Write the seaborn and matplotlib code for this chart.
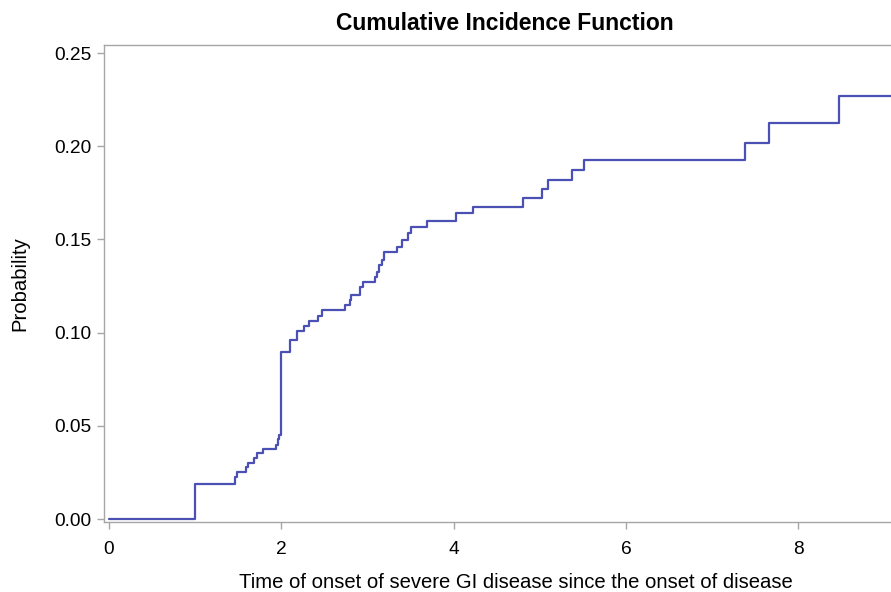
import matplotlib
matplotlib.use("Agg")
import matplotlib.pyplot as plt
import seaborn as sns
import pandas as pd

# Step function data (time, cumulative incidence after jump)
time = [0.0, 1.0, 1.462, 1.481, 1.586, 1.609, 1.686, 1.712, 1.790, 1.934, 1.957, 1.976,
        2.0, 2.100, 2.178, 2.262, 2.320, 2.428, 2.468, 2.738, 2.796, 2.804, 2.912, 2.943,
        3.086, 3.105, 3.132, 3.164, 3.190, 3.338, 3.396, 3.472, 3.503, 3.686, 4.026,
        4.226, 4.799, 5.020, 5.096, 5.368, 5.510, 7.386, 7.657, 8.472, 9.30]
cif = [0.0, 0.0188, 0.0224, 0.0254, 0.0281, 0.0302, 0.0326, 0.0352, 0.0374, 0.0397, 0.0428, 0.0451,
       0.0896, 0.0960, 0.1010, 0.1035, 0.1064, 0.1091, 0.1121, 0.1148, 0.1176, 0.1202, 0.1243, 0.1270,
       0.1296, 0.1326, 0.1362, 0.1389, 0.1431, 0.1461, 0.1497, 0.1533, 0.1565, 0.1600, 0.1640,
       0.1676, 0.1724, 0.1769, 0.1819, 0.1872, 0.1926, 0.2019, 0.2123, 0.2269, 0.2269]
xticks = [0, 2, 4, 6, 8]
yticks = [0.00, 0.05, 0.10, 0.15, 0.20, 0.25]

df = pd.DataFrame({"time": time, "cif": cif})

sns.set_theme(style="white")
plt.rcParams["font.family"] = ["Liberation Sans", "DejaVu Sans"]
plt.rcParams["text.color"] = "black"
plt.rcParams["axes.labelcolor"] = "black"

fig = plt.figure(figsize=(8.91, 5.92), dpi=100)
ax = fig.add_axes([104 / 891, 70 / 592, 790 / 891, 477 / 592])

sns.lineplot(data=df, x="time", y="cif", ax=ax, estimator=None,
             drawstyle="steps-post", color="#4B50B4", linewidth=1.6)

ax.set_xlim(-0.058, 9.11)
ax.set_ylim(-0.0016, 0.2543)
ax.set_xticks(xticks)
ax.set_xticklabels([str(t) for t in xticks])
ax.set_yticks(yticks)
ax.set_yticklabels([f"{t:.2f}" for t in yticks])

for s in ["left", "bottom", "top"]:
    ax.spines[s].set_color("#A6A6A6")
    ax.spines[s].set_linewidth(1.0)
ax.spines["right"].set_visible(False)

ax.tick_params(axis="both", which="major", direction="out", length=5, width=1.0,
               color="#A6A6A6", labelsize=13.8, labelcolor="black")
ax.tick_params(axis="x", pad=9)
ax.tick_params(axis="y", pad=4)
ax.tick_params(left=True, bottom=True)

ax.set_xlabel("Time of onset of severe GI disease since the onset of disease",
              fontsize=14.6, color="black")
ax.xaxis.set_label_coords(0.5215, -0.106)
ax.set_ylabel("Probability", fontsize=14.6, labelpad=18, color="black")
ax.set_title("Cumulative Incidence Function", fontsize=16.5, fontweight="bold",
             color="black", x=0.5076, y=1.0, pad=11)

fig.savefig("out.png", dpi=100)
